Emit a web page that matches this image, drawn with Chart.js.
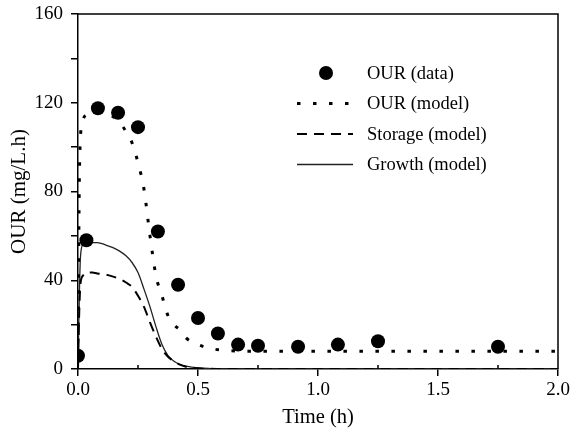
<!DOCTYPE html>
<html>
<head>
<meta charset="utf-8">
<script src="https://cdn.jsdelivr.net/npm/chart.js@4/dist/chart.umd.min.js"></script>
<style>
  html, body { margin: 0; padding: 0; background: #fff; }
  #wrap { width: 573px; height: 431px; }
</style>
</head>
<body>
<div id="wrap"><canvas id="chart" width="573" height="431"></canvas></div>
<script>
// measured OUR
const dataTime = [0.0, 0.035, 0.083, 0.167, 0.25, 0.333, 0.417, 0.5, 0.583, 0.667, 0.75, 0.917, 1.083, 1.25, 1.75]
const ourData  = [6, 58, 117.5, 115.5, 109, 62, 38, 23, 16, 11, 10.5, 10, 11, 12.5, 10]

// model curves
const modelTime = [0, 0.005, 0.01, 0.02, 0.04, 0.06, 0.08, 0.1, 0.125, 0.15, 0.175, 0.2, 0.225, 0.25, 0.275, 0.3,
                   0.325, 0.35, 0.375, 0.4, 0.425, 0.45, 0.5, 0.55, 0.6, 0.7, 0.8, 1.0, 1.25, 1.5, 1.75, 2.0]
const ourModel     = [5, 80, 104, 112, 115, 116, 116, 116, 114.5, 113.5, 111, 107, 102, 93, 81, 60,
                      42, 33, 24, 20, 17.5, 14, 11, 9.3, 8.5, 8, 8, 8, 8, 8, 8, 8]
const storageModel = [0, 25, 38, 42, 43.5, 43.5, 43, 42.8, 42.3, 41.5, 40.5, 39, 37, 33, 28, 21,
                      14.5, 9, 5.5, 3.5, 2, 1, 0.3, 0.1, 0, 0, 0, 0, 0, 0, 0, 0]
const growthModel  = [0, 30, 50, 56, 57, 57, 57, 56.5, 55.5, 54.5, 53, 51, 48, 43.5, 36, 28,
                      19, 11, 6, 3.5, 2, 1.3, 0.5, 0.2, 0.1, 0, 0, 0, 0, 0, 0, 0]

const yTicks = [0, 40, 80, 120, 160]
const yMinor = [20, 60, 100, 140]
const xTicks = [0.0, 0.5, 1.0, 1.5, 2.0]
const xMinor = [0.25, 0.75, 1.25, 1.75]

const serif = '"Liberation Serif", "Times New Roman", serif'

function pairs(xs, ys) {
    return xs.map((x, i) => ({x: x, y: ys[i]}))
}

const framePlugin = {
    id: 'frame',
    afterDraw(chart) {
        const {ctx, chartArea: a} = chart
        const xs = chart.scales.x
        ctx.save()
        ctx.strokeStyle = '#000'
        ctx.lineWidth = 1.5
        ctx.beginPath()
        ctx.moveTo(a.left, a.top)
        ctx.lineTo(a.right, a.top)
        ctx.lineTo(a.right, a.bottom)
        // minor x ticks point inwards
        xMinor.forEach(v => {
            const px = xs.getPixelForValue(v)
            ctx.moveTo(px, a.bottom)
            ctx.lineTo(px, a.bottom - 4)
        })
        ctx.stroke()
        ctx.restore()
    }
}

const legendPlugin = {
    id: 'innerLegend',
    afterDraw(chart) {
        const ctx = chart.ctx
        const rows = chart.data.datasets
        ctx.save()
        ctx.font = '18.5px ' + serif
        ctx.textBaseline = 'middle'
        ctx.fillStyle = '#000'
        rows.forEach((ds, i) => {
            const y = 73 + i * 30.5
            if (ds.showLine === false) {
                ctx.beginPath()
                ctx.arc(326, y, 7, 0, Math.PI * 2)
                ctx.fill()
            } else {
                ctx.beginPath()
                ctx.strokeStyle = ds.borderColor
                ctx.lineWidth = ds.borderWidth
                ctx.setLineDash(ds.borderDash || [])
                ctx.moveTo(297, y)
                ctx.lineTo(353, y)
                ctx.stroke()
                ctx.setLineDash([])
            }
            ctx.fillText(ds.label, 367, y + 1)
        })
        ctx.restore()
    }
}

new Chart(document.getElementById('chart'), {
    type: 'scatter',
    data: {
        datasets: [
            {
                label: 'OUR (data)',
                data: pairs(dataTime, ourData),
                showLine: false,
                pointRadius: 7,
                pointBackgroundColor: '#000',
                pointBorderWidth: 0,
                order: 0
            },
            {
                label: 'OUR (model)',
                data: pairs(modelTime, ourModel),
                showLine: true,
                borderColor: '#000',
                borderWidth: 3,
                borderDash: [3.5, 12.5],
                pointRadius: 0,
                cubicInterpolationMode: 'monotone',
                order: 1
            },
            {
                label: 'Storage (model)',
                data: pairs(modelTime, storageModel),
                showLine: true,
                borderColor: '#000',
                borderWidth: 2,
                borderDash: [10, 7],
                pointRadius: 0,
                cubicInterpolationMode: 'monotone',
                order: 2
            },
            {
                label: 'Growth (model)',
                data: pairs(modelTime, growthModel),
                showLine: true,
                borderColor: '#222',
                borderWidth: 1.3,
                pointRadius: 0,
                cubicInterpolationMode: 'monotone',
                order: 3
            }
        ]
    },
    options: {
        responsive: false,
        animation: false,
        layout: {padding: {top: 14, right: 15, left: 2, bottom: 0}},
        plugins: {
            legend: {display: false},
            tooltip: {enabled: false}
        },
        scales: {
            x: {
                type: 'linear',
                min: 0,
                max: 2,
                afterFit: s => {
                    s.height = 62
                    s.paddingLeft = 0
                    s.paddingRight = 0
                },
                afterBuildTicks: s => {
                    s.ticks = [0, 0.25, 0.5, 0.75, 1.0, 1.25, 1.5, 1.75, 2.0].map(v => ({value: v}))
                },
                grid: {
                    drawOnChartArea: false,
                    tickLength: 7,
                    lineWidth: 1.5,
                    tickColor: c => (c.tick && xTicks.includes(c.tick.value)) ? '#000' : 'rgba(0,0,0,0)'
                },
                border: {color: '#000', width: 1.5},
                ticks: {
                    color: '#000',
                    font: {family: serif, size: 19},
                    padding: 3,
                    maxRotation: 0,
                    autoSkip: false,
                    callback: v => xTicks.includes(v) ? v.toFixed(1) : ''
                },
                title: {
                    display: true,
                    text: 'Time (h)',
                    color: '#000',
                    font: {family: serif, size: 20.5},
                    padding: {top: 0, bottom: 1}
                }
            },
            y: {
                type: 'linear',
                min: 0,
                max: 160,
                afterFit: s => {
                    s.width = 76
                    s.paddingTop = 0
                    s.paddingBottom = 0
                },
                afterBuildTicks: s => {
                    s.ticks = yTicks.concat(yMinor).sort((a, b) => a - b).map(v => ({value: v}))
                },
                grid: {drawOnChartArea: false, tickLength: 7, color: '#000', lineWidth: 1.5},
                border: {color: '#000', width: 1.5},
                ticks: {
                    color: '#000',
                    font: {family: serif, size: 19},
                    padding: 8,
                    autoSkip: false,
                    callback: v => yTicks.includes(v) ? String(v) : ''
                },
                title: {
                    display: true,
                    text: 'OUR (mg/L.h)',
                    color: '#000',
                    font: {family: serif, size: 21},
                    padding: {top: 5, bottom: 0}
                }
            }
        }
    },
    plugins: [framePlugin, legendPlugin]
})
</script>
</body>
</html>
